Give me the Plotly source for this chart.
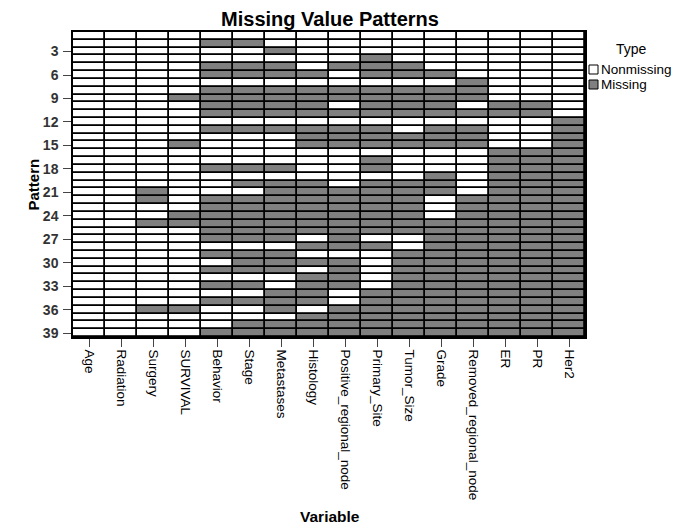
import plotly.graph_objects as go

variables = ["Age", "Radiation", "Surgery", "SURVIVAL", "Behavior", "Stage", "Metastases",
             "Histology", "Positive_regional_node", "Primary_Site", "Tumor_Size", "Grade",
             "Removed_regional_node", "ER", "PR", "Her2"]
patterns = list(range(1, 40))
pattern_ticks = [3, 6, 9, 12, 15, 18, 21, 24, 27, 30, 33, 36, 39]
type_labels = ["Nonmissing", "Missing"]

# 1 = Missing, 0 = Nonmissing ; one string per pattern, columns in the order of `variables`
pattern_rows = [
    "0000000000000000",  # 1
    "0000110000000000",  # 2
    "0000001000000000",  # 3
    "0000000001000000",  # 4
    "0000111011100000",  # 5
    "0000111101110000",  # 6
    "0000000000001000",  # 7
    "0000111111111000",  # 8
    "0001111111111000",  # 9
    "0000111101110110",  # 10
    "0000111111111110",  # 11
    "0000000000000001",  # 12
    "0000111111011001",  # 13
    "0000000111111001",  # 14
    "0001000111111001",  # 15
    "0000000000000111",  # 16
    "0000000001000111",  # 17
    "0000111001000111",  # 18
    "0000000000010111",  # 19
    "0000011101110111",  # 20
    "0010001111110111",  # 21
    "0010111111101111",  # 22
    "0000111111101111",  # 23
    "0001111111101111",  # 24
    "0011111111111111",  # 25
    "0000111111111111",  # 26
    "0000111010011111",  # 27
    "0000000111011111",  # 28
    "0000111000111111",  # 29
    "0000011110111111",  # 30
    "0000111010111111",  # 31
    "0000000110111111",  # 32
    "0000110110111111",  # 33
    "0000001101111111",  # 34
    "0000111101111111",  # 35
    "0011001011111111",  # 36
    "0000000111111111",  # 37
    "0000011111111111",  # 38
    "0000111111111111",  # 39
]
z = [[int(c) for c in row] for row in pattern_rows]

GREY = "#808080"
FONT = "Arial, Liberation Sans, sans-serif"

# page body has an 8px margin: figure is drawn 8px right/down of the window origin
W, H = 680, 520
L, T, PW, PH = 65, 24, 512, 305
R, B = W - L - PW, H - T - PH


def px(fx):
    return (fx - L) / PW


def py(fy):
    return 1 - (fy - T) / PH


fig = go.Figure()
fig.add_trace(go.Heatmap(
    z=z, x=variables, y=patterns,
    colorscale=[[0, "white"], [0.5, "white"], [0.5, GREY], [1, GREY]],
    zmin=0, zmax=1, showscale=False, xgap=1.8, ygap=1.8,
    hoverinfo="skip",
))

fig.update_layout(
    width=W, height=H,
    margin=dict(l=L, r=R, t=T, b=B, autoexpand=False),
    paper_bgcolor="white", plot_bgcolor="black",
    font=dict(family=FONT, color="black"),
    title=dict(text="<b>Missing Value Patterns</b>", x=px(322), xref="paper", xanchor="center",
               y=1 - 11 / H, yref="container", yanchor="middle",
               font=dict(size=20, color="black")),
    showlegend=False,
)
fig.update_xaxes(
    type="category", tickangle=90, ticks="outside", ticklen=8, tickcolor="#444",
    tickfont=dict(size=13.5, color="black"), showline=True, linecolor="black", linewidth=1.5,
    mirror=True, showgrid=False, zeroline=False, automargin=False,
)
fig.update_yaxes(
    autorange="reversed", tickvals=pattern_ticks,
    ticktext=["<b>%d</b>" % t for t in pattern_ticks],
    ticks="outside", ticklen=8, tickcolor="#444", ticklabelstandoff=2,
    tickfont=dict(size=14, color="#333"),
    showline=True, linecolor="black", linewidth=1.5, mirror=True, showgrid=False,
    zeroline=False, automargin=False,
)

# axis titles
fig.add_annotation(text="<b>Pattern</b>", x=px(14), y=py(177), xref="paper", yref="paper",
                   textangle=-90, showarrow=False, font=dict(size=15, color="black"))
fig.add_annotation(text="<b>Variable</b>", x=px(322), y=py(508), xref="paper", yref="paper",
                   yanchor="middle", showarrow=False, font=dict(size=15.5, color="black"))

# legend (Type)
fig.add_annotation(text="Type", x=px(623), y=py(41), xref="paper", yref="paper",
                   xanchor="center", yanchor="middle", showarrow=False,
                   font=dict(size=14, color="black"))
for i, (lab, col) in enumerate(zip(type_labels, ["white", GREY])):
    top = 57 + i * 15
    fig.add_shape(type="rect", xref="paper", yref="paper",
                  x0=px(581), x1=px(590), y0=py(top), y1=py(top + 9),
                  fillcolor=col, line=dict(color="black", width=1))
    fig.add_annotation(text=lab, x=px(591), y=py(top + 4.5), xref="paper", yref="paper",
                       xanchor="left", yanchor="middle", showarrow=False,
                       font=dict(size=13.5, color="black"))

fig.write_html("out.html")
